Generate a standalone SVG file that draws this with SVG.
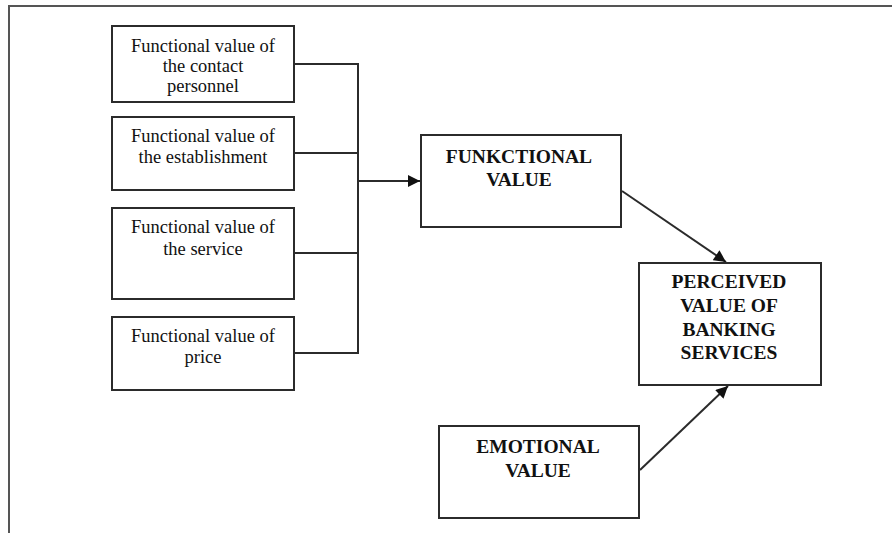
<svg xmlns="http://www.w3.org/2000/svg" width="892" height="533" viewBox="0 0 892 533">
  <style>
    .box { fill: #ffffff; stroke: #2b2b2b; stroke-width: 2; }
    .wire { fill: none; stroke: #2b2b2b; stroke-width: 2; }
    .frame { fill: none; stroke: #555555; stroke-width: 2; }
    .small { font-family: "Liberation Serif", "Times New Roman", serif; font-size: 18.5px; fill: #111111; text-anchor: middle; }
    .big { font-family: "Liberation Serif", "Times New Roman", serif; font-size: 19.5px; font-weight: bold; fill: #111111; text-anchor: middle; }
  </style>
  <defs>
    <marker id="arrow" viewBox="0 0 10 10" refX="10" refY="5" markerWidth="6.5" markerHeight="6" markerUnits="strokeWidth" orient="auto">
      <path d="M0,0 L10,5 L0,10 Z" fill="#111111"/>
    </marker>
  </defs>
  <rect width="892" height="533" fill="#ffffff"/>

  <!-- outer frame: top and left edges -->
  <path class="frame" d="M9,533 V6 H892"/>

  <g id="fv-personnel">
    <rect class="box" x="112" y="26" width="182" height="76"/>
    <text class="small" x="203" y="52">Functional value of</text>
    <text class="small" x="203" y="72">the contact</text>
    <text class="small" x="203" y="92">personnel</text>
  </g>

  <g id="fv-establishment">
    <rect class="box" x="112" y="117" width="182" height="73"/>
    <text class="small" x="203" y="142">Functional value of</text>
    <text class="small" x="203" y="163">the establishment</text>
  </g>

  <g id="fv-service">
    <rect class="box" x="112" y="208" width="182" height="91"/>
    <text class="small" x="203" y="233">Functional value of</text>
    <text class="small" x="203" y="255">the service</text>
  </g>

  <g id="fv-price">
    <rect class="box" x="112" y="317" width="182" height="73"/>
    <text class="small" x="203" y="342">Functional value of</text>
    <text class="small" x="203" y="363">price</text>
  </g>

  <g id="functional-value">
    <rect class="box" x="421" y="135" width="200" height="92"/>
    <text class="big" x="519" y="163">FUNKCTIONAL</text>
    <text class="big" x="519" y="186">VALUE</text>
  </g>

  <g id="perceived-value">
    <rect class="box" x="639" y="263" width="182" height="122"/>
    <text class="big" x="729" y="288">PERCEIVED</text>
    <text class="big" x="729" y="312">VALUE OF</text>
    <text class="big" x="729" y="336">BANKING</text>
    <text class="big" x="729" y="359">SERVICES</text>
  </g>

  <g id="emotional-value">
    <rect class="box" x="439" y="426" width="200" height="92"/>
    <text class="big" x="538" y="453">EMOTIONAL</text>
    <text class="big" x="538" y="477">VALUE</text>
  </g>

  <g id="connectors">
    <path class="wire" d="M294,64 H358 V353 H294"/>
    <path class="wire" d="M294,153 H358"/>
    <path class="wire" d="M294,253 H358"/>
    <path class="wire" d="M358,181 H420" marker-end="url(#arrow)"/>
    <path class="wire" d="M622,191 L726,262" marker-end="url(#arrow)"/>
    <path class="wire" d="M640,470 L728,386" marker-end="url(#arrow)"/>
  </g>
</svg>
